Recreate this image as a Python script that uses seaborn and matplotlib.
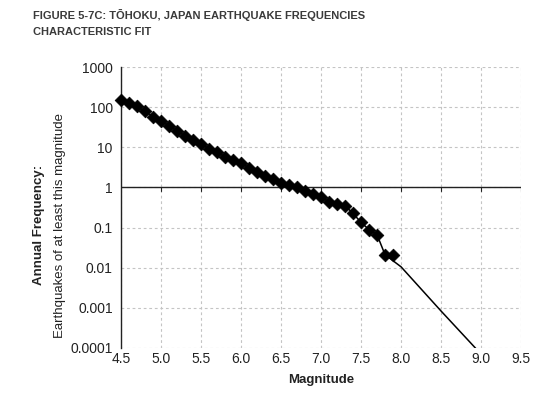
import numpy as np
import pandas as pd
import matplotlib
matplotlib.use("Agg")
import matplotlib.pyplot as plt
from matplotlib.ticker import FixedLocator, FixedFormatter
import seaborn as sns

# observed magnitudes and annual frequency (>= magnitude)
magnitudes = [4.5, 4.6, 4.7, 4.8, 4.9, 5.0, 5.1, 5.2, 5.3, 5.4, 5.5, 5.6, 5.7,
              5.8, 5.9, 6.0, 6.1, 6.2, 6.3, 6.4, 6.5, 6.6, 6.7, 6.8, 6.9, 7.0,
              7.1, 7.2, 7.3, 7.4, 7.5, 7.6, 7.7, 7.8, 7.9]
frequencies = [152, 126, 104, 78, 58, 46, 34, 25.7, 19.2, 15.2, 12.1, 9.2, 7.5,
               5.85, 4.8, 4.0, 3.1, 2.37, 1.96, 1.61, 1.31, 1.12, 1.03, 0.83,
               0.68, 0.57, 0.44, 0.38, 0.35, 0.225, 0.134, 0.089, 0.066, 0.021,
               0.021]

# characteristic fit extension past the data
fit_mag = [7.8, 8.0, 8.5, 9.0]
fit_freq = [0.021, 0.0105, 0.00083, 0.00007]

yticks = [1e3, 1e2, 1e1, 1, 0.1, 0.01, 0.001, 0.0001]
ylabels = ["1000", "100", "10", "1", "0.1", "0.01", "0.001", "0.0001"]
xticks = [4.5, 5.0, 5.5, 6.0, 6.5, 7.0, 7.5, 8.0, 8.5, 9.0, 9.5]

sns.set_theme(style="white")
plt.rcParams["font.family"] = ["Liberation Sans", "DejaVu Sans"]

data = pd.DataFrame({"Magnitude": magnitudes, "Frequency": frequencies})
fit = pd.DataFrame({"Magnitude": fit_mag, "Frequency": fit_freq})

fig = plt.figure(figsize=(5.40, 3.99), dpi=100)
ax = fig.add_axes([0.224, 0.128, 0.741, 0.704])

ax.set_yscale("log")
ax.set_xlim(4.5, 9.5)
ax.set_ylim(1e-4, 1e3)

# grid
ax.grid(True, which="major", color="#c4c4c4", linestyle=(0, (2.5, 2.5)), linewidth=0.8)
ax.set_axisbelow(True)
ax.yaxis.set_major_locator(FixedLocator(yticks))
ax.yaxis.set_major_formatter(FixedFormatter(ylabels))
ax.yaxis.set_minor_locator(FixedLocator([]))
ax.set_xticks(xticks)
ax.set_xticklabels([f"{t:.1f}" for t in xticks])

for s in ["top", "right", "bottom"]:
    ax.spines[s].set_visible(False)
ax.spines["left"].set_color("#222222")
ax.spines["left"].set_linewidth(1.0)

# horizontal axis line crossing at 1
ax.axhline(1, color="#222222", linewidth=1.0, zorder=2)
for t in xticks[1:]:
    ax.plot([t, t], [1, 10 ** -0.08], color="#222222", linewidth=0.8, zorder=2)

sns.lineplot(data=data, x="Magnitude", y="Frequency", ax=ax, color="black",
             linewidth=1.1, zorder=3)
sns.lineplot(data=fit, x="Magnitude", y="Frequency", ax=ax, color="black",
             linewidth=1.1, zorder=3)
sns.scatterplot(data=data, x="Magnitude", y="Frequency", ax=ax, marker="D",
                s=42, color="black", edgecolor="black", zorder=4, clip_on=False)

ax.tick_params(axis="y", which="major", direction="out", length=4, width=0.8,
               color="#222222", labelsize=10, pad=2, labelcolor="#222222")
ax.tick_params(axis="x", which="major", length=0, labelsize=10, pad=3,
               labelcolor="#222222")
ax.set_xlabel("Magnitude", fontsize=9.5, fontweight="bold", color="#222222", labelpad=6)
ax.set_ylabel("")

fig.text(0.072, 0.435, "Annual Frequency:", rotation=90, ha="center", va="center",
         fontsize=9.5, fontweight="bold", color="#222222")
fig.text(0.111, 0.435, "Earthquakes of at least this magnitude", rotation=90,
         ha="center", va="center", fontsize=9.5, color="#222222")

fig.text(0.061, 0.962, "FIGURE 5-7C: T\u014cHOKU, JAPAN EARTHQUAKE FREQUENCIES",
         ha="left", va="center", fontsize=8, fontweight="bold", color="#3a3a3a")
fig.text(0.061, 0.920, "CHARACTERISTIC FIT", ha="left", va="center",
         fontsize=8, fontweight="bold", color="#3a3a3a")

fig.savefig("out.png", dpi=100, facecolor="white")
